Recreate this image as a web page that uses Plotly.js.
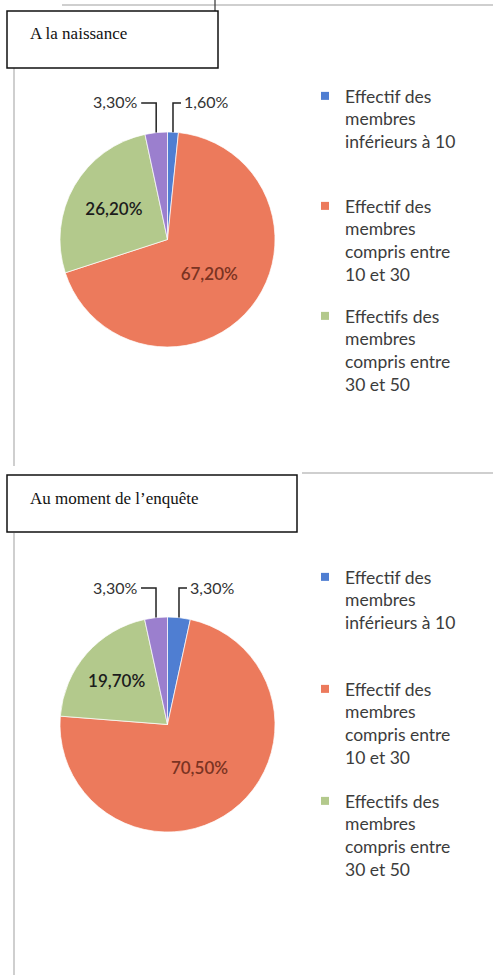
<!DOCTYPE html>
<html>
<head>
<meta charset="utf-8">
<script src="https://cdn.plot.ly/plotly-3.0.1.min.js"></script>
<style>html,body{margin:0;padding:0;background:#fff;}#chart{width:493px;height:977px;}</style>
</head>
<body>
<div id="chart"></div>
<script>
// ---- data ----
const categories = [
  'Effectif des membres inférieurs à 10',
  'Effectif des membres compris entre 10 et 30',
  'Effectifs des membres compris entre 30 et 50',
  'Autre'
];
const legendLabels = [
  'Effectif des<br>membres<br>inférieurs à 10<br> ',
  'Effectif des<br>membres<br>compris entre<br>10 et 30',
  'Effectifs des<br>membres<br>compris entre<br>30 et 50'
];
const valuesNaissance = [1.6, 67.2, 26.2, 3.3];
const valuesEnquete = [3.3, 70.5, 19.7, 3.3];
const titles = ['A la naissance', 'Au moment de l\u2019enquête'];
const colors = ['#4F7ED2', '#EC7A5C', '#B3C98C', '#9B7FCE'];

// ---- layout geometry (pixels) ----
const W = 493, H = 977;
const pies = [
  {values: valuesNaissance, cx: 167.5, cy: 239.5, r: 107.5, legend: 'legend', legendTop: 78, gap: 16, box: [7, 11, 218, 68]},
  {values: valuesEnquete, cx: 167.5, cy: 724.5, r: 107.5, legend: 'legend2', legendTop: 559, gap: 18, box: [7, 475, 297, 532]}
];
const px = x => x / W;
const py = y => 1 - y / H;
const fmt = v => v.toFixed(2).replace('.', ',') + '%';

const traces = [];
const shapes = [];
const annotations = [];

pies.forEach((p, k) => {
  const small = p.values.map(v => v < 5);
  traces.push({
    type: 'pie',
    values: p.values,
    labels: categories,
    sort: false,
    direction: 'clockwise',
    rotation: 0,
    showlegend: false,
    hoverinfo: 'label+percent',
    domain: {x: [px(p.cx - p.r), px(p.cx + p.r)], y: [py(p.cy + p.r), py(p.cy - p.r)]},
    marker: {colors: colors, line: {color: 'rgba(255,255,255,0.7)', width: 1}},
    texttemplate: p.values.map((v, i) => small[i] ? '' : '%{value:.2f}%'),
    textposition: 'inside',
    insidetextorientation: 'horizontal',
    textfont: {family: 'Lato', size: 17, weight: 600, color: ['#222', '#7a3322', '#1c1c1c', '#222']}
  });
  // legend entries (first three categories)
  legendLabels.forEach((lab, i) => {
    traces.push({
      type: 'scatter', x: [null], y: [null], mode: 'markers',
      name: lab, legend: p.legend, legendgroup: p.legend + i,
      marker: {symbol: 'square', size: 8, color: colors[i]},
      hoverinfo: 'skip'
    });
  });
  // outside labels for small slices with elbow leader lines (derived from data)
  const total = p.values.reduce((a, b) => a + b, 0);
  let cum = 0;
  p.values.forEach((v, i) => {
    const mid = (cum + v / 2) / total * 2 * Math.PI;
    cum += v;
    if (!small[i]) return;
    const ex = p.cx + p.r * Math.sin(mid);
    const ey = p.cy - p.r * Math.cos(mid);
    const ly = p.cy - p.r - 29;
    const left = Math.sin(mid) < 0;
    const hx = ex + (left ? -15 : 8);
    shapes.push({type: 'path', xref: 'paper', yref: 'paper',
      path: `M ${px(ex)} ${py(ey)} L ${px(ex)} ${py(ly)} L ${px(hx)} ${py(ly)}`,
      line: {color: '#222', width: 1.5}});
    annotations.push({xref: 'paper', yref: 'paper', x: px(hx + (left ? -2 : 1)), y: py(ly - 1),
      xanchor: left ? 'right' : 'left', yanchor: 'middle', showarrow: false,
      text: fmt(v), font: {family: 'Lato', size: 16, color: '#333'}});
  });
  // title box
  const b = p.box;
  shapes.push({type: 'rect', xref: 'paper', yref: 'paper', x0: px(b[0]), x1: px(b[2]), y0: py(b[3]), y1: py(b[1]),
    line: {color: '#111', width: 1.5}, fillcolor: '#fff', layer: 'above'});
  annotations.push({xref: 'paper', yref: 'paper', x: px(b[0] + 21), y: py(b[1] + 23),
    xanchor: 'left', yanchor: 'middle', showarrow: false, text: titles[k],
    font: {family: 'Liberation Serif', size: 17, color: '#111'}});
});

// chart frame remnants
const grey = {color: '#cfcfcf', width: 2};
shapes.unshift(
  {type: 'line', xref: 'paper', yref: 'paper', x0: px(62), x1: px(493), y0: py(5), y1: py(5), line: grey},
  {type: 'line', xref: 'paper', yref: 'paper', x0: px(14), x1: px(14), y0: py(68), y1: py(466), line: grey},
  {type: 'line', xref: 'paper', yref: 'paper', x0: px(302), x1: px(493), y0: py(473), y1: py(473), line: grey},
  {type: 'line', xref: 'paper', yref: 'paper', x0: px(14), x1: px(14), y0: py(533), y1: py(975), line: grey},
  {type: 'line', xref: 'paper', yref: 'paper', x0: px(215), x1: px(215), y0: py(0), y1: py(11), line: {color: '#333', width: 1.2}}
);

const legendStyle = (top, gap) => ({
  x: px(305), xanchor: 'left', y: py(top), yanchor: 'top',
  font: {family: 'Lato', size: 17.5, color: '#3c3c3c'},
  valign: 'top', tracegroupgap: gap, bgcolor: 'rgba(0,0,0,0)', traceorder: 'grouped'
});

const layout = {
  width: W, height: H,
  margin: {l: 0, r: 0, t: 0, b: 0},
  paper_bgcolor: '#fff', plot_bgcolor: 'rgba(0,0,0,0)',
  separators: ', ',
  showlegend: true,
  legend: legendStyle(pies[0].legendTop, pies[0].gap),
  legend2: legendStyle(pies[1].legendTop, pies[1].gap),
  xaxis: {visible: false}, yaxis: {visible: false},
  shapes: shapes,
  annotations: annotations
};

Plotly.newPlot('chart', traces, layout, {displayModeBar: false, staticPlot: true});
</script>
</body>
</html>
